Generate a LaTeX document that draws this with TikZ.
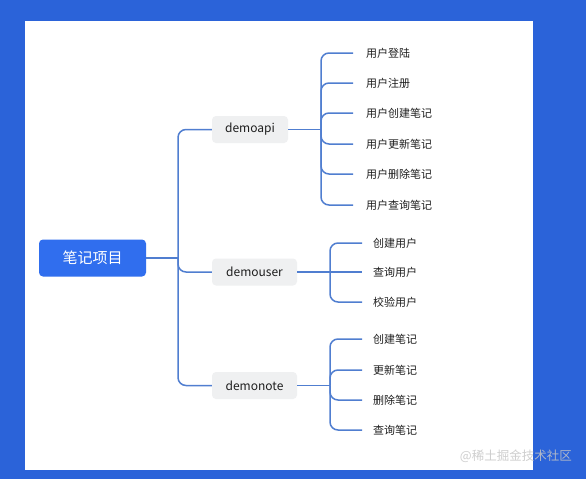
\documentclass[tikz,border=0pt]{standalone}
\usepackage{fontspec}
\setmainfont{Noto Sans CJK SC}
\definecolor{bgblue}{RGB}{43,99,217}
\definecolor{rootblue}{RGB}{48,110,238}
\definecolor{linkblue}{RGB}{80,126,208}
\definecolor{subgray}{RGB}{239,240,241}
\definecolor{txt}{RGB}{30,30,30}
\begin{document}
\begin{tikzpicture}[x=1pt,y=-1pt,
  rootbox/.style={fill=rootblue, rounded corners=4pt, text=white, inner sep=0pt,
    minimum width=107pt, minimum height=37pt, font=\fontsize{15}{18}\selectfont},
  subbox/.style={fill=subgray, rounded corners=4pt, text=txt, inner sep=0pt,
    minimum height=27pt, font=\fontsize{12}{14}\selectfont},
  leaf/.style={anchor=west, inner sep=0pt, text=txt, font=\fontsize{11}{13}\selectfont},
  link/.style={draw=linkblue, line width=1.5pt, rounded corners=8pt},
  straight/.style={draw=linkblue, line width=1.5pt}]
\useasboundingbox (0,0) rectangle (586,479);
\fill[bgblue] (0,0) rectangle (586,479);
\fill[white] (25,21) rectangle (533,470);

% nodes
\node[rootbox] (root) at (92.5,258) {笔记项目};
\node[subbox, minimum width=76pt] (api) at (250,129.5) {demoapi};
\node[subbox, minimum width=85pt] (user) at (254.5,272) {demouser};
\node[subbox, minimum width=85pt] (note) at (254.5,385.5) {demonote};

% junctions
\coordinate (j0) at (178,258);
\coordinate (j1) at (321,129.5);
\coordinate (j2) at (330,272);
\coordinate (j3) at (330,385.5);

% first level links
\draw[straight] (root.east) -- (j0);
\draw[link] (j0) |- (api.west);
\draw[link] (j0) |- (user.west);
\draw[link] (j0) |- (note.west);

% demoapi leaves
\draw[straight] (api.east) -- (j1);
\foreach \n/\y/\t in {a1/53/用户登陆, a2/83/用户注册, a3/113/用户创建笔记, a4/144/用户更新笔记, a5/174/用户删除笔记, a6/205/用户查询笔记}{
  \node[leaf] (\n) at (366,\y) {\t};
  \draw[link] (j1) |- ([xshift=-13pt]\n.west);
}

% demouser leaves
\draw[straight] (user.east) -- (j2);
\foreach \n/\y/\t in {u1/243/创建用户, u3/302/校验用户}{
  \node[leaf] (\n) at (373,\y) {\t};
  \draw[link] (j2) |- ([xshift=-11pt]\n.west);
}
\node[leaf] (u2) at (373,272) {查询用户};
\draw[straight] (j2) -- ([xshift=-11pt]u2.west);

% demonote leaves
\draw[straight] (note.east) -- (j3);
\foreach \n/\y/\t in {n1/339/创建笔记, n2/370/更新笔记, n3/400/删除笔记, n4/430/查询笔记}{
  \node[leaf] (\n) at (373,\y) {\t};
  \draw[link] (j3) |- ([xshift=-11pt]\n.west);
}

% watermark
\node[anchor=east, inner sep=0pt, text=gray!45, opacity=0.85, font=\fontsize{12.5}{14}\selectfont] (wm) at (572,456) {@稀土掘金技术社区};
\end{tikzpicture}
\end{document}
